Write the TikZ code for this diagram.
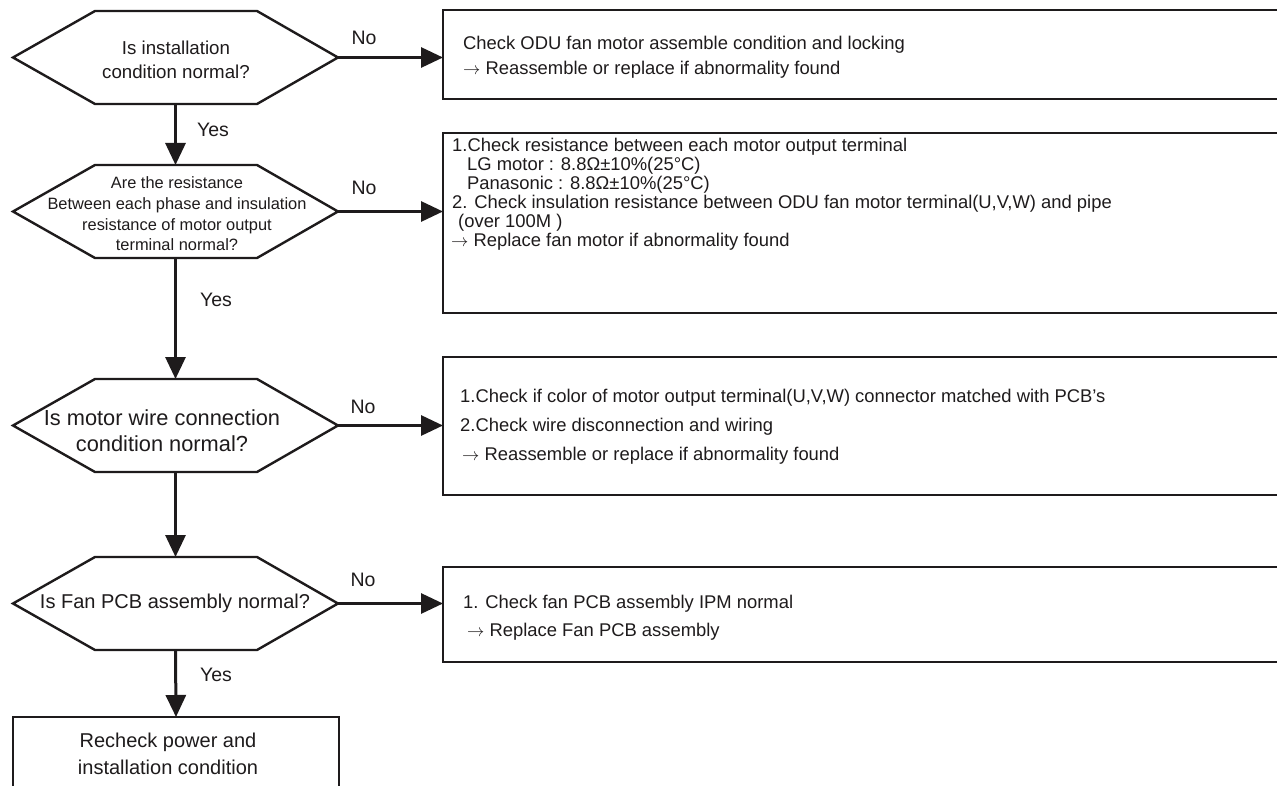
\documentclass[tikz,border=0pt]{standalone}
\usepackage{fontspec}
\setmainfont{Liberation Sans}
\usetikzlibrary{arrows.meta,calc}
\definecolor{ink}{RGB}{30,27,28}
\newcommand\drawhexagon[1]{%
  \draw[hexline] (#1.west) -- ($(#1.north west)+(82,0)$) -- ($(#1.north east)+(-81,0)$)
    -- (#1.east) -- ($(#1.south east)+(-81,0)$) -- ($(#1.south west)+(82,0)$) -- cycle;}
\newcommand\rarr{$\rightarrow$}
\begin{document}
\begin{tikzpicture}[x=1pt,y=-1pt,
  every node/.style={text=ink},
  hexnode/.style={minimum width=325pt,minimum height=93pt,inner sep=0pt,outer sep=0pt},
  hexline/.style={draw=ink,line width=2.4pt,line join=miter},
  rbox/.style={draw=ink,line width=2.6pt,inner sep=0pt,outer sep=0pt},
  conn/.style={draw=ink,line width=3pt,-{Triangle[length=22pt,width=20pt]}},
  lbl/.style={inner sep=0pt,font=\fontsize{19.5}{20}\selectfont},
  bt/.style={anchor=base west,inner sep=0pt,font=\fontsize{18.4}{19}\selectfont},
]
\clip (0,0) rectangle (1277,786);
\fill[white] (0,0) rectangle (1277,786);

% decision shapes
\node[hexnode] (h1) at (175.5,57.5) {};
\node[hexnode] (h2) at (175.5,211.5) {};
\node[hexnode] (h3) at (175.5,425.5) {};
\node[hexnode] (h4) at (175.5,603.5) {};
\drawhexagon{h1}
\drawhexagon{h2}
\drawhexagon{h3}
\drawhexagon{h4}

\node[inner sep=0pt,align=center,font=\fontsize{18.7}{24}\selectfont] (t1) at (176,60)
  {Is installation\\condition normal?};
\node[inner sep=0pt,align=center,font=\fontsize{16.4}{20.7}\selectfont] (t2) at (177,214)
  {Are the resistance\\Between each phase and insulation\\resistance of motor output\\terminal normal?};
\node[inner sep=0pt,align=center,font=\fontsize{21.8}{26}\selectfont] (t3) at (162,431)
  {Is motor wire connection\\condition normal?};
\node[inner sep=0pt,align=center,font=\fontsize{20}{24}\selectfont] (t4) at (175,603.5)
  {Is Fan PCB assembly normal?};

% action boxes
\node[rbox,minimum width=847pt,minimum height=89pt] (b1) at (866.5,54.5) {};
\node[rbox,minimum width=847pt,minimum height=180pt] (b2) at (866.5,223) {};
\node[rbox,minimum width=847pt,minimum height=138pt] (b3) at (866.5,426) {};
\node[rbox,minimum width=847pt,minimum height=95pt] (b4) at (866.5,614.5) {};
\node[rbox,minimum width=326pt,minimum height=103pt] (b5) at (176,768.5) {};

\node[bt] (b1a) at (463,49.5) {Check ODU fan motor assemble condition and locking};
\node[bt] (b1b) at (463,75) {\rarr{} Reassemble or replace if abnormality found};

\node[bt] (b2a) at (452,151.5) {1.Check resistance between each motor output terminal};
\node[bt] (b2b) at (467,170.5) {LG motor : 8.8Ω±10\%(25°C)};
\node[bt] (b2c) at (467,189.5) {Panasonic : 8.8Ω±10\%(25°C)};
\node[bt] (b2d) at (452,208.5) {2. Check insulation resistance between ODU fan motor terminal(U,V,W) and pipe};
\node[bt] (b2e) at (458,227.5) {(over 100M )};
\node[bt] (b2f) at (451,246.5) {\rarr{} Replace fan motor if abnormality found};

\node[bt] (b3a) at (460,402.5) {1.Check if color of motor output terminal(U,V,W) connector matched with PCB’s};
\node[bt] (b3b) at (460,431.5) {2.Check wire disconnection and wiring};
\node[bt] (b3c) at (462,460.5) {\rarr{} Reassemble or replace if abnormality found};

\node[bt] (b4a) at (463,608.5) {1. Check fan PCB assembly IPM normal};
\node[bt] (b4b) at (467,636.5) {\rarr{} Replace Fan PCB assembly};

\node[inner sep=0pt,align=center,font=\fontsize{20}{27}\selectfont] (t5) at (168,753.5)
  {Recheck power and\\installation condition};

% connectors
\draw[conn] (h1.east) -- (h1.east -| b1.west);
\draw[conn] (h2.east) -- (h2.east -| b2.west);
\draw[conn] (h3.east) -- (h3.east -| b3.west);
\draw[conn] (h4.east) -- (h4.east -| b4.west);
\draw[conn] (h1.south) -- (h2.north);
\draw[conn] (h2.south) -- (h3.north);
\draw[conn] (h3.south) -- (h4.north);
\draw[conn] (h4.south) -- (b5.north);

% labels
\node[lbl] (n1) at (364,38) {No};
\node[lbl] (n2) at (364,188) {No};
\node[lbl] (n3) at (363,407) {No};
\node[lbl] (n4) at (363,580) {No};
\node[lbl] (y1) at (213,130) {Yes};
\node[lbl] (y2) at (216,300) {Yes};
\node[lbl] (y4) at (216,675) {Yes};
\end{tikzpicture}
\end{document}
